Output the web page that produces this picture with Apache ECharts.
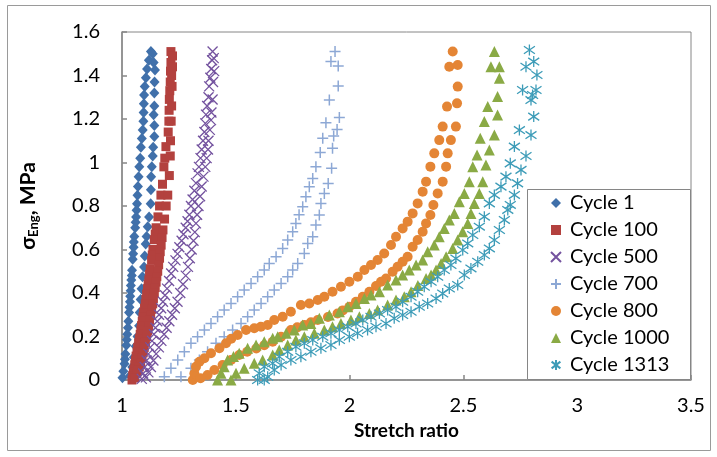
<!DOCTYPE html>
<html>
<head>
<meta charset="utf-8">
<script src="https://cdn.jsdelivr.net/npm/echarts@6/dist/echarts.min.js"></script>
<style>
  html, body { margin: 0; padding: 0; background: #fff; }
  #chart { width: 717px; height: 457px; }
</style>
</head>
<body>
<div id="chart"></div>
<script>
// Stress–stretch hysteresis loops, one [stretch, stress MPa] list per cycle
const cycle1 = [
  [1.127,1.51],[1.118,1.47],[1.110,1.43],[1.105,1.39],[1.100,1.35],[1.097,1.31],[1.096,1.27],[1.095,1.23],
  [1.094,1.19],[1.091,1.15],[1.087,1.11],[1.083,1.07],[1.080,1.02],[1.076,0.98],[1.073,0.935],[1.070,0.89],
  [1.068,0.85],[1.066,0.81],[1.064,0.78],[1.062,0.75],[1.060,0.725],[1.058,0.70],[1.054,0.66],[1.052,0.635],
  [1.051,0.61],[1.049,0.58],[1.047,0.555],[1.044,0.505],[1.043,0.48],[1.041,0.46],[1.039,0.435],[1.038,0.41],
  [1.036,0.385],[1.035,0.36],[1.033,0.335],[1.031,0.31],[1.028,0.27],[1.026,0.24],[1.023,0.21],[1.021,0.185],
  [1.019,0.16],[1.015,0.12],[1.013,0.095],[1.011,0.075],[1.006,0.04],[1.002,0.01],
  [1.135,1.50],[1.139,1.46],[1.145,1.425],[1.143,1.37],[1.142,1.32],[1.142,1.26],[1.139,1.22],[1.142,1.17],
  [1.142,1.12],[1.137,1.07],[1.135,1.03],[1.131,0.98],[1.128,0.935],[1.127,0.875],[1.126,0.81],[1.119,0.75],
  [1.113,0.705],[1.108,0.66],[1.104,0.625],[1.100,0.57],[1.097,0.52],[1.090,0.475],[1.086,0.42],[1.082,0.37],
  [1.078,0.31],[1.075,0.25],[1.068,0.20],[1.060,0.155],[1.052,0.105],[1.045,0.06],[1.035,0.02]
];
const cycle100 = [
  [1.215,1.51],[1.215,1.46],[1.213,1.42],[1.212,1.37],[1.210,1.33],[1.208,1.29],[1.207,1.24],[1.206,1.19],
  [1.203,1.14],[1.193,1.073],[1.188,1.02],[1.184,0.98],[1.178,0.90],[1.171,0.85],[1.165,0.80],[1.158,0.75],
  [1.150,0.70],[1.146,0.67],[1.142,0.645],[1.136,0.60],[1.133,0.575],[1.130,0.55],[1.124,0.51],[1.121,0.485],
  [1.118,0.46],[1.115,0.44],[1.112,0.42],[1.108,0.395],[1.105,0.37],[1.102,0.35],[1.099,0.33],[1.095,0.31],
  [1.092,0.29],[1.089,0.27],[1.086,0.25],[1.083,0.23],[1.080,0.21],[1.076,0.19],[1.073,0.17],[1.069,0.15],
  [1.066,0.13],[1.062,0.11],[1.059,0.09],[1.056,0.07],[1.053,0.05],[1.050,0.035],[1.047,0.02],[1.044,0.0],
  [1.222,1.49],[1.222,1.44],[1.218,1.40],[1.220,1.35],[1.218,1.26],[1.216,1.19],[1.213,1.10],[1.212,1.03],
  [1.208,0.94],[1.201,0.85],[1.194,0.80],[1.187,0.74],[1.180,0.69],[1.176,0.655],[1.172,0.62],[1.168,0.59],
  [1.165,0.56],[1.161,0.53],[1.157,0.50],[1.153,0.475],[1.150,0.45],[1.146,0.425],[1.142,0.40],[1.138,0.375],
  [1.135,0.35],[1.130,0.325],[1.126,0.30],[1.121,0.275],[1.117,0.25],[1.112,0.225],[1.108,0.20],[1.103,0.175],
  [1.098,0.15],[1.093,0.125],[1.088,0.10],[1.082,0.08],[1.076,0.06],[1.070,0.045],[1.065,0.03],[1.056,0.01]
];
const cycle500 = [
  [1.398,1.51],[1.396,1.47],[1.392,1.43],[1.388,1.39],[1.383,1.35],[1.380,1.30],[1.374,1.26],[1.369,1.22],
  [1.366,1.18],[1.362,1.14],[1.356,1.10],[1.350,1.06],[1.345,1.02],[1.338,0.98],[1.332,0.95],[1.325,0.905],
  [1.318,0.87],[1.310,0.83],[1.303,0.80],[1.296,0.76],[1.288,0.73],[1.280,0.70],[1.270,0.67],[1.262,0.64],
  [1.252,0.61],[1.244,0.58],[1.235,0.55],[1.225,0.52],[1.216,0.49],[1.207,0.455],[1.198,0.42],[1.189,0.39],
  [1.180,0.36],[1.172,0.33],[1.163,0.30],[1.155,0.27],[1.147,0.24],[1.140,0.21],[1.132,0.18],[1.124,0.15],
  [1.116,0.12],[1.108,0.09],[1.100,0.06],[1.093,0.03],[1.087,0.005],
  [1.403,1.48],[1.405,1.42],[1.400,1.37],[1.398,1.29],[1.393,1.23],[1.391,1.195],[1.386,1.15],[1.380,1.10],
  [1.378,1.06],[1.372,1.02],[1.366,0.98],[1.358,0.935],[1.350,0.89],[1.343,0.845],[1.336,0.80],[1.330,0.76],
  [1.325,0.72],[1.320,0.68],[1.314,0.64],[1.306,0.60],[1.298,0.56],[1.290,0.52],[1.280,0.48],[1.268,0.44],
  [1.256,0.40],[1.244,0.36],[1.232,0.33],[1.220,0.30],[1.208,0.27],[1.196,0.24],[1.185,0.21],[1.173,0.18],
  [1.162,0.15],[1.150,0.12],[1.138,0.09],[1.127,0.06],[1.116,0.035],[1.105,0.012]
];
const cycle700 = [
  [1.936,1.51],[1.918,1.464],[1.911,1.287],[1.896,1.183],[1.882,1.111],[1.871,1.046],[1.852,0.981],
  [1.838,0.927],[1.823,0.889],[1.808,0.843],[1.794,0.797],[1.778,0.760],[1.764,0.720],[1.750,0.682],
  [1.728,0.644],[1.706,0.605],[1.677,0.567],[1.647,0.536],[1.625,0.506],[1.596,0.475],[1.567,0.444],
  [1.537,0.414],[1.508,0.383],[1.479,0.352],[1.449,0.322],[1.420,0.291],[1.391,0.260],[1.362,0.230],
  [1.332,0.199],[1.303,0.169],[1.274,0.130],[1.245,0.092],[1.215,0.054],[1.186,0.015],
  [1.950,1.444],[1.950,1.352],[1.955,1.207],[1.945,1.152],[1.930,1.122],[1.925,1.065],[1.921,0.973],
  [1.906,0.904],[1.889,0.858],[1.874,0.812],[1.867,0.759],[1.852,0.713],[1.838,0.659],[1.816,0.628],
  [1.801,0.582],[1.772,0.536],[1.750,0.506],[1.728,0.475],[1.699,0.444],[1.669,0.414],[1.640,0.383],
  [1.611,0.352],[1.581,0.322],[1.552,0.291],[1.523,0.260],[1.486,0.230],[1.449,0.199],[1.413,0.169],
  [1.376,0.130],[1.340,0.092],[1.303,0.054],[1.259,0.015]
];
const cycle800 = [
  [1.311,0.0],[1.318,0.03],[1.325,0.061],[1.340,0.084],[1.362,0.100],[1.391,0.123],[1.428,0.146],
  [1.457,0.169],[1.480,0.190],[1.508,0.207],[1.545,0.230],[1.581,0.238],[1.610,0.245],[1.640,0.253],
  [1.669,0.276],[1.706,0.291],[1.742,0.314],[1.786,0.345],[1.823,0.352],[1.860,0.368],[1.889,0.383],
  [1.925,0.406],[1.962,0.429],[1.999,0.452],[2.036,0.475],[2.065,0.506],[2.094,0.529],[2.123,0.552],
  [2.152,0.582],[2.182,0.621],[2.204,0.659],[2.233,0.697],[2.255,0.728],[2.277,0.766],[2.299,0.812],
  [2.321,0.866],[2.336,0.912],[2.355,0.981],[2.372,1.042],[2.394,1.103],[2.409,1.165],[2.428,1.257],
  [2.438,1.44],[2.453,1.51],
  [2.475,1.448],[2.475,1.349],[2.472,1.272],[2.467,1.165],[2.445,1.103],[2.431,1.042],[2.424,0.981],
  [2.409,0.912],[2.387,0.858],[2.368,0.805],[2.355,0.759],[2.336,0.720],[2.321,0.682],[2.299,0.644],
  [2.277,0.613],[2.255,0.567],[2.233,0.544],[2.211,0.521],[2.189,0.498],[2.160,0.467],[2.138,0.452],
  [2.116,0.432],[2.087,0.406],[2.058,0.383],[2.028,0.360],[1.999,0.337],[1.970,0.320],[1.947,0.306],
  [1.905,0.290],[1.860,0.276],[1.830,0.265],[1.801,0.253],[1.770,0.242],[1.742,0.230],[1.699,0.199],
  [1.662,0.176],[1.625,0.160],[1.590,0.145],[1.550,0.130],[1.515,0.115],[1.479,0.092],[1.442,0.069],
  [1.406,0.046],[1.376,0.023],[1.345,0.008]
];
const cycle1000 = [
  [1.420,0.0],[1.435,0.031],[1.449,0.061],[1.464,0.092],[1.490,0.108],[1.515,0.123],[1.552,0.146],
  [1.589,0.161],[1.625,0.176],[1.662,0.192],[1.684,0.199],[1.721,0.215],[1.757,0.230],[1.794,0.253],
  [1.830,0.260],[1.867,0.284],[1.911,0.299],[1.955,0.314],[1.992,0.337],[2.028,0.352],[2.065,0.375],
  [2.094,0.391],[2.131,0.406],[2.167,0.437],[2.204,0.460],[2.233,0.483],[2.262,0.506],[2.292,0.529],
  [2.321,0.552],[2.343,0.590],[2.372,0.621],[2.394,0.659],[2.416,0.697],[2.438,0.736],[2.460,0.766],
  [2.482,0.820],[2.504,0.858],[2.526,0.912],[2.541,0.981],[2.560,1.034],[2.574,1.111],[2.592,1.188],
  [2.607,1.257],[2.621,1.44],[2.636,1.51],
  [2.658,1.44],[2.658,1.387],[2.650,1.303],[2.650,1.218],[2.636,1.126],[2.614,1.057],[2.599,0.989],
  [2.585,0.912],[2.570,0.858],[2.548,0.812],[2.533,0.766],[2.519,0.720],[2.497,0.682],[2.475,0.644],
  [2.453,0.605],[2.424,0.567],[2.402,0.536],[2.380,0.506],[2.358,0.483],[2.336,0.467],[2.300,0.435],
  [2.270,0.406],[2.240,0.383],[2.204,0.368],[2.167,0.345],[2.123,0.322],[2.087,0.306],[2.043,0.291],
  [2.006,0.276],[1.962,0.260],[1.925,0.245],[1.889,0.230],[1.845,0.215],[1.801,0.199],[1.764,0.184],
  [1.728,0.161],[1.691,0.138],[1.662,0.115],[1.618,0.092],[1.581,0.077],[1.537,0.054],[1.501,0.031],
  [1.479,0.0]
];
const cycle1313 = [
  [1.596,0.0],[1.603,0.031],[1.625,0.061],[1.662,0.077],[1.691,0.107],[1.728,0.130],[1.764,0.153],
  [1.801,0.169],[1.838,0.184],[1.882,0.199],[1.918,0.215],[1.955,0.230],[1.992,0.245],[2.028,0.260],
  [2.058,0.276],[2.094,0.291],[2.131,0.306],[2.167,0.322],[2.204,0.337],[2.233,0.360],[2.270,0.383],
  [2.299,0.406],[2.328,0.429],[2.358,0.452],[2.387,0.475],[2.416,0.506],[2.445,0.529],[2.467,0.559],
  [2.497,0.598],[2.519,0.628],[2.541,0.667],[2.570,0.705],[2.592,0.751],[2.614,0.812],[2.636,0.851],
  [2.665,0.889],[2.687,0.935],[2.706,0.996],[2.724,1.073],[2.746,1.149],[2.760,1.333],[2.775,1.44],
  [2.790,1.517],
  [2.809,1.464],[2.823,1.402],[2.819,1.333],[2.804,1.310],[2.797,1.287],[2.809,1.211],[2.797,1.126],
  [2.775,1.030],[2.753,0.966],[2.738,0.904],[2.724,0.851],[2.706,0.805],[2.695,0.782],[2.680,0.736],
  [2.658,0.690],[2.636,0.644],[2.614,0.605],[2.592,0.575],[2.563,0.544],[2.533,0.513],[2.504,0.483],
  [2.475,0.437],[2.438,0.421],[2.409,0.398],[2.380,0.375],[2.343,0.352],[2.306,0.337],[2.270,0.314],
  [2.233,0.299],[2.196,0.284],[2.160,0.260],[2.116,0.245],[2.079,0.230],[2.035,0.215],[1.999,0.199],
  [1.955,0.184],[1.918,0.161],[1.874,0.146],[1.830,0.130],[1.786,0.107],[1.742,0.092],[1.699,0.069],
  [1.669,0.046],[1.640,0.015],[1.625,0.0]
];

const seriesNames = ['Cycle 1', 'Cycle 100', 'Cycle 500', 'Cycle 700', 'Cycle 800', 'Cycle 1000', 'Cycle 1313'];
const seriesData = [cycle1, cycle100, cycle500, cycle700, cycle800, cycle1000, cycle1313];
const xTicks = { min: 1, max: 3.5, step: 0.5 };
const yTicks = { min: 0, max: 1.6, step: 0.2 };

// marker look for each cycle
const markers = [
  { symbol: 'diamond', size: [10, 11], color: '#4070AA', stroke: 0 },
  { symbol: 'rect', size: 9, color: '#B3413E', stroke: 0 },
  { symbol: 'path://M0,0L10,10M10,0L0,10', size: 10, color: '#74539F', stroke: 1.3 },
  { symbol: 'path://M5,0L5,10M0,5L10,5', size: 11, color: '#8DA8D5', stroke: 1.5 },
  { symbol: 'circle', size: 10, color: '#E48535', stroke: 0 },
  { symbol: 'triangle', size: [11, 11], color: '#8AAA45', stroke: 0 },
  { symbol: 'path://M5,0L5,10M0.6,1.6L9.4,8.4M9.4,1.6L0.6,8.4', size: 11, color: '#3D9CB8', stroke: 1.3 }
];

const FONT = 'Lato';
const AXIS_GRAY = '#868686';

const chart = echarts.init(document.getElementById('chart'), null, { renderer: 'canvas' });

const series = seriesNames.map((name, i) => {
  const m = markers[i];
  return {
    name: name,
    type: 'scatter',
    data: seriesData[i],
    symbol: m.symbol,
    symbolSize: m.size,
    itemStyle: {
      color: m.color,
      borderColor: m.color,
      borderWidth: m.stroke,
      opacity: 1
    },
    emphasis: { disabled: true },
    z: 2
  };
});

chart.setOption({
  animation: false,
  backgroundColor: '#fff',
  textStyle: { fontFamily: FONT },
  grid: {
    left: 122, right: 26, top: 32, bottom: 77,
    show: true, borderColor: AXIS_GRAY, borderWidth: 1, backgroundColor: 'transparent'
  },
  xAxis: {
    type: 'value',
    min: xTicks.min, max: xTicks.max, interval: xTicks.step,
    name: 'Stretch ratio',
    nameLocation: 'middle',
    nameGap: 41,
    nameTextStyle: { fontFamily: FONT, fontWeight: 'bold', fontSize: 19, color: '#000' },
    axisLine: { show: true, lineStyle: { color: AXIS_GRAY, width: 1.5 } },
    axisTick: { show: true, inside: true, length: 5, lineStyle: { color: AXIS_GRAY, width: 1.5 } },
    axisLabel: { fontFamily: FONT, fontSize: 20, color: '#000', margin: 16 },
    splitLine: { show: false }
  },
  yAxis: {
    type: 'value',
    min: yTicks.min, max: yTicks.max, interval: yTicks.step,
    name: '{s|σ}{sub|Eng}{s|, MPa}',
    nameLocation: 'middle',
    nameGap: 82,
    nameTextStyle: {
      color: '#000',
      rich: {
        s: { fontFamily: FONT, fontWeight: 'bold', fontSize: 21, color: '#000', lineHeight: 24 },
        sub: { fontFamily: FONT, fontWeight: 'bold', fontSize: 13, color: '#000', lineHeight: 24, verticalAlign: 'bottom', padding: [9, 0, 0, 0] }
      }
    },
    axisLine: { show: true, lineStyle: { color: AXIS_GRAY, width: 1.5 } },
    axisTick: { show: true, inside: true, length: 5, lineStyle: { color: AXIS_GRAY, width: 1.5 } },
    axisLabel: { fontFamily: FONT, fontSize: 20, color: '#000', margin: 22 },
    splitLine: { show: false }
  },
  legend: {
    orient: 'vertical',
    left: 550,
    top: 193,
    padding: 0,
    itemWidth: 10,
    itemHeight: 10,
    itemGap: 7,
    selectedMode: false,
    z: 5,
    textStyle: { fontFamily: FONT, fontSize: 20, lineHeight: 20, color: '#000', padding: [0, 0, 0, 4] },
    data: seriesNames
  },
  graphic: [
    {
      type: 'rect', z: 0, silent: true,
      shape: { x: 7.5, y: 5.5, width: 703, height: 445 },
      style: { fill: 'none', stroke: '#9a9a9a', lineWidth: 1 }
    },
    {
      type: 'rect', z: 4, silent: true,
      shape: { x: 527.5, y: 189.5, width: 163, height: 190 },
      style: { fill: '#fff', stroke: AXIS_GRAY, lineWidth: 1 }
    }
  ],
  series: series
});
</script>
</body>
</html>
